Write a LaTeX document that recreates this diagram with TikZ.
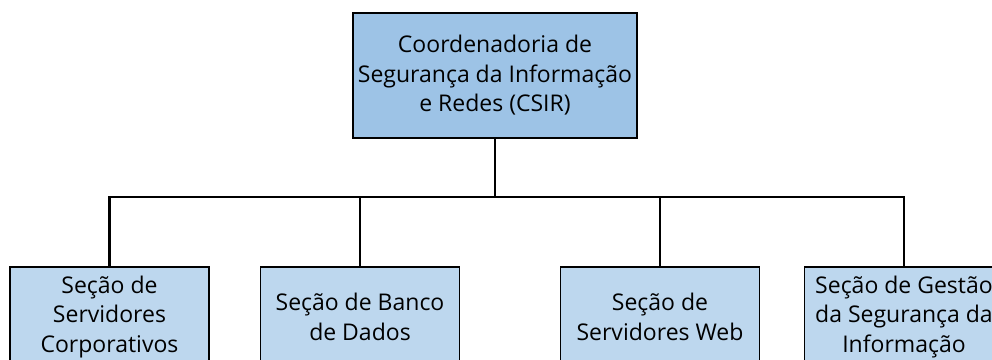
\documentclass[tikz,border=0pt]{standalone}
\usepackage{fontspec}
\setmainfont{Open Sans}
\definecolor{topfill}{HTML}{9DC3E6}
\definecolor{subfill}{HTML}{BDD7EE}
\begin{document}
\begin{tikzpicture}[x=1pt,y=-1pt,
  box/.style={draw=black,line width=1.5pt,align=center,inner sep=0pt,
    font=\fontsize{23}{29.5}\selectfont,text=black},
  topbox/.style={box,fill=topfill,minimum width=284pt,minimum height=125pt},
  subbox/.style={box,fill=subfill,minimum width=199pt,minimum height=100pt},
  conn/.style={line width=2.8pt,draw=black}]
\useasboundingbox (0,0) rectangle (992,359);
\clip (0,0) rectangle (992,359);
\node[topbox] (top) at (495,75.5) {Coordenadoria de\\Segurança da Informação\\e Redes (CSIR)};
\node[subbox] (s1) at (109.5,317) {Seção de\\Servidores\\Corporativos};
\node[subbox] (s2) at (360,317) {Seção de Banco\\de Dados};
\node[subbox] (s3) at (660,317) {Seção de\\Servidores Web};
\node[subbox] (s4) at (904,317) {Seção de Gestão\\da Segurança da\\Informação};
\coordinate (bus) at (495,197);
\draw[conn] (top.south) -- (bus);
\draw[conn] (s1.north) |- (bus);
\draw[conn] (s2.north) |- (bus);
\draw[conn] (s3.north) |- (bus);
\draw[conn] (s4.north) |- (bus);
\end{tikzpicture}
\end{document}
